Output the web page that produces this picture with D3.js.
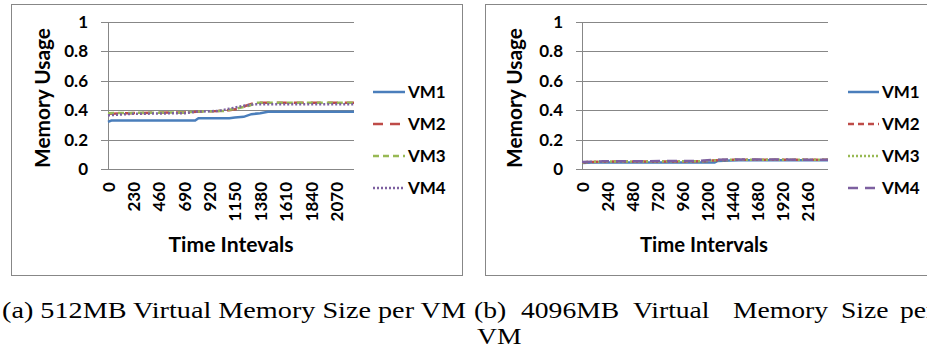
<!DOCTYPE html>
<html>
<head>
<meta charset="utf-8">
<script src="https://cdn.jsdelivr.net/npm/d3@7"></script>
<style>
  body { margin: 0; background: #fff; }
  svg { display: block; }
  .chart text { font-family: Lato, "Open Sans", sans-serif; font-weight: bold; fill: #000; }
  .caption { font-family: "Liberation Serif", "Times New Roman", serif; font-size: 24px; fill: #000; }
</style>
</head>
<body>
<svg id="fig" width="927" height="354"></svg>
<script>
// ---- data ----
const seriesNames = ["VM1", "VM2", "VM3", "VM4"];
const seriesColors = ["#4A7EBB", "#BE4B48", "#98B954", "#7D60A0"];

const yTicks = [0, 0.2, 0.4, 0.6, 0.8, 1];
const yTickLabels = ["0", "0.2", "0.4", "0.6", "0.8", "1"];

const xTicksA = [0, 230, 460, 690, 920, 1150, 1380, 1610, 1840, 2070];
const xTicksB = [0, 240, 480, 720, 960, 1200, 1440, 1680, 1920, 2160];

// (a) 512MB per VM: [time interval, memory usage]
const usageA_VM1 = [[0, 0.32], [30, 0.33], [790, 0.33], [820, 0.345], [1100, 0.345], [1150, 0.35],
                    [1230, 0.355], [1300, 0.373], [1380, 0.38], [1450, 0.39], [2230, 0.39]];
const usageA_VM2 = [[0, 0.375], [200, 0.38], [700, 0.385], [800, 0.39], [1000, 0.395], [1100, 0.40],
                    [1180, 0.41], [1250, 0.43], [1330, 0.45], [2230, 0.45]];
const usageA_VM3 = [[0, 0.38], [700, 0.385], [800, 0.39], [1050, 0.395], [1150, 0.41], [1280, 0.43],
                    [1340, 0.45], [2230, 0.45]];
const usageA_VM4 = [[0, 0.365], [200, 0.375], [700, 0.38], [800, 0.39], [1000, 0.395], [1100, 0.41],
                    [1230, 0.43], [1320, 0.44], [2230, 0.44]];

// (b) 4096MB per VM
const usageB_VM1 = [[0, 0.04], [100, 0.045], [1270, 0.045], [1300, 0.055], [1420, 0.058], [1500, 0.06], [2355, 0.06]];
const usageB_VM2 = [[0, 0.045], [150, 0.05], [1150, 0.052], [1300, 0.06], [1450, 0.063], [2355, 0.063]];
const usageB_VM3 = [[0, 0.045], [150, 0.05], [1150, 0.053], [1320, 0.062], [2355, 0.063]];
const usageB_VM4 = [[0, 0.048], [200, 0.052], [1100, 0.055], [1250, 0.062], [1450, 0.065], [2355, 0.063]];

const captionA = "(a) 512MB Virtual Memory Size per VM";
const captionBWords = ["(b)", "4096MB", "Virtual", "Memory", "Size", "per"];
const captionBLine2 = "VM";

// ---- layout ----
const panels = [
  {
    frame: [11.5, 4.5, 451, 271],
    xDomain: [0, 2230], xRange: [108, 354], gridStart: 101,
    yRange: [169, 22],
    xTicks: xTicksA,
    series: [usageA_VM1, usageA_VM2, usageA_VM3, usageA_VM4],
    dashes: [null, "10,7", "6,4", "2,2"],
    yTitle: "Memory Usage", yTitleX: 50, yTitleLen: 140,
    xTitle: "Time Intevals", xTitleX: 231, xTitleLen: 125,
    legendLine: [373, 405], legendText: 408
  },
  {
    frame: [485.5, 4.5, 460, 271],
    xDomain: [0, 2355], xRange: [582, 828], gridStart: 576,
    yRange: [169, 22],
    xTicks: xTicksB,
    series: [usageB_VM1, usageB_VM2, usageB_VM3, usageB_VM4],
    dashes: [null, "6,4", "2,2", "10,7"],
    yTitle: "Memory Usage", yTitleX: 522, yTitleLen: 140,
    xTitle: "Time Intervals", xTitleX: 704, xTitleLen: 128,
    legendLine: [848, 879], legendText: 882
  }
];
const legendRows = [92, 124, 156, 188];

const svg = d3.select("#fig");
svg.append("rect").attr("width", 927).attr("height", 354).attr("fill", "#fff");

panels.forEach(p => {
  const g = svg.append("g").attr("class", "chart");
  g.append("rect")
    .attr("x", p.frame[0]).attr("y", p.frame[1])
    .attr("width", p.frame[2]).attr("height", p.frame[3])
    .attr("fill", "#fff").attr("stroke", "#878787").attr("stroke-width", 1);

  const x = d3.scaleLinear().domain(p.xDomain).range(p.xRange);
  const y = d3.scaleLinear().domain([0, 1]).range(p.yRange);

  // horizontal gridlines with y tick labels
  const yAxis = d3.axisLeft(y)
    .tickValues(yTicks)
    .tickFormat((d, i) => yTickLabels[i])
    .tickSize(-(p.xRange[1] - p.gridStart))
    .tickPadding(13);
  const ya = g.append("g").attr("transform", `translate(${p.gridStart},0)`).call(yAxis);
  ya.select(".domain").remove();
  ya.selectAll(".tick line").attr("stroke", "#878787").attr("stroke-width", 1)
    .attr("shape-rendering", "crispEdges");
  ya.selectAll(".tick text").style("font-size", "17px").attr("fill", "#000");

  // vertical axis line
  g.append("line")
    .attr("x1", x(0)).attr("x2", x(0)).attr("y1", y(1)).attr("y2", y(0))
    .attr("stroke", "#878787").attr("stroke-width", 1).attr("shape-rendering", "crispEdges");

  // category labels, rotated
  const xAxis = d3.axisBottom(x).tickValues(p.xTicks).tickFormat(d3.format("d")).tickSize(0);
  const xa = g.append("g").attr("transform", `translate(0,${y(0)})`).call(xAxis);
  xa.select(".domain").remove();
  xa.selectAll(".tick text")
    .attr("transform", "rotate(-90)")
    .attr("x", -13).attr("y", 0).attr("dy", "0.36em")
    .attr("text-anchor", "end")
    .style("font-size", "17px").attr("fill", "#000");

  // series lines
  const line = d3.line().x(d => x(d[0])).y(d => y(d[1]));
  p.series.forEach((s, i) => {
    g.append("path")
      .datum(s)
      .attr("d", line)
      .attr("fill", "none")
      .attr("stroke", seriesColors[i])
      .attr("stroke-width", 2.5)
      .attr("stroke-dasharray", p.dashes[i]);
  });

  // legend
  seriesNames.forEach((name, i) => {
    const ly = legendRows[i];
    g.append("line")
      .attr("x1", p.legendLine[0]).attr("x2", p.legendLine[1])
      .attr("y1", ly).attr("y2", ly)
      .attr("stroke", seriesColors[i]).attr("stroke-width", 2.5)
      .attr("stroke-dasharray", p.dashes[i]);
    g.append("text")
      .attr("x", p.legendText).attr("y", ly + 6)
      .style("font-size", "17px")
      .text(name);
  });

  // axis titles
  g.append("text")
    .attr("transform", `translate(${p.yTitleX},98) rotate(-90)`)
    .attr("text-anchor", "middle")
    .attr("textLength", p.yTitleLen).attr("lengthAdjust", "spacingAndGlyphs")
    .style("font-size", "20px")
    .text(p.yTitle);
  g.append("text")
    .attr("x", p.xTitleX).attr("y", 252)
    .attr("text-anchor", "middle")
    .attr("textLength", p.xTitleLen).attr("lengthAdjust", "spacingAndGlyphs")
    .style("font-size", "20px")
    .text(p.xTitle);
});

// sub-figure captions
const capA = svg.append("text").attr("class", "caption")
  .attr("x", 2).attr("y", 318).text(captionA);
const naturalA = capA.node().getComputedTextLength();
const targetA = 464;
capA.attr("textLength", targetA).attr("lengthAdjust", "spacingAndGlyphs");
const k = Math.min(1.15, targetA / naturalA);

const wordX = [474, 521, 633, 733, 841, 900];
captionBWords.forEach((w, i) => {
  const t = svg.append("text").attr("class", "caption")
    .attr("x", wordX[i]).attr("y", 318).text(w);
  const n = t.node().getComputedTextLength();
  t.attr("textLength", n * k).attr("lengthAdjust", "spacingAndGlyphs");
});
const l2 = svg.append("text").attr("class", "caption")
  .attr("x", 477).attr("y", 344).text(captionBLine2);
l2.attr("textLength", l2.node().getComputedTextLength() * k).attr("lengthAdjust", "spacingAndGlyphs");
</script>
</body>
</html>
